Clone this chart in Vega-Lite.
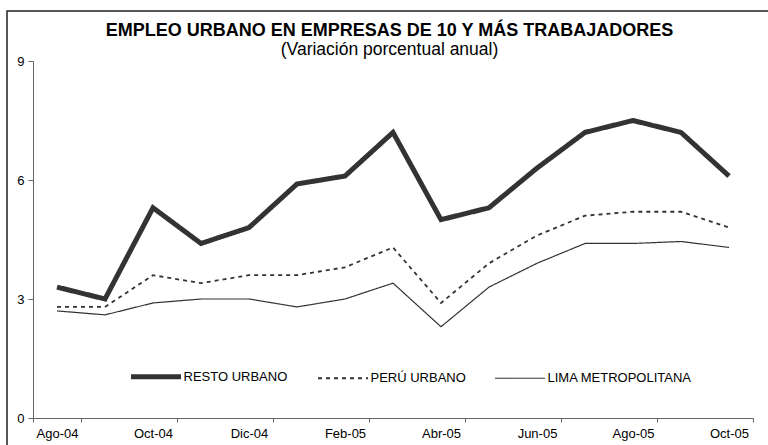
{
  "$schema": "https://vega.github.io/schema/vega-lite/v6.json",
  "width": 765,
  "height": 440,
  "autosize": {"type": "none"},
  "padding": {"left": 7, "top": 11, "right": 0, "bottom": 0},
  "background": "white",
  "title": {
    "text": "EMPLEO URBANO EN EMPRESAS DE 10 Y MÁS TRABAJADORES",
    "subtitle": "(Variación porcentual anual)",
    "anchor": "middle",
    "frame": "group",
    "offset": -47,
    "font": "Liberation Sans",
    "fontSize": 18,
    "fontWeight": "bold",
    "color": "black",
    "subtitleFont": "Liberation Sans",
    "subtitleFontSize": 17.5,
    "subtitleColor": "black",
    "subtitlePadding": 1
  },
  "config": {
    "view": {"stroke": "#222", "strokeWidth": 1.5},
    "axis": {
      "labelFont": "Liberation Sans",
      "labelFontSize": 13,
      "labelColor": "black",
      "domainColor": "#666",
      "tickColor": "#666",
      "grid": false,
      "title": null
    },
    "legend": {
      "labelFont": "Liberation Sans",
      "labelFontSize": 13,
      "labelColor": "black"
    }
  },
  "data": {
    "values": [
      {"mes": "Ago-04", "serie": "RESTO URBANO", "valor": 3.3},
      {"mes": "Set-04", "serie": "RESTO URBANO", "valor": 3.0},
      {"mes": "Oct-04", "serie": "RESTO URBANO", "valor": 5.3},
      {"mes": "Nov-04", "serie": "RESTO URBANO", "valor": 4.4},
      {"mes": "Dic-04", "serie": "RESTO URBANO", "valor": 4.8},
      {"mes": "Ene-05", "serie": "RESTO URBANO", "valor": 5.9},
      {"mes": "Feb-05", "serie": "RESTO URBANO", "valor": 6.1},
      {"mes": "Mar-05", "serie": "RESTO URBANO", "valor": 7.2},
      {"mes": "Abr-05", "serie": "RESTO URBANO", "valor": 5.0},
      {"mes": "May-05", "serie": "RESTO URBANO", "valor": 5.3},
      {"mes": "Jun-05", "serie": "RESTO URBANO", "valor": 6.3},
      {"mes": "Jul-05", "serie": "RESTO URBANO", "valor": 7.2},
      {"mes": "Ago-05", "serie": "RESTO URBANO", "valor": 7.5},
      {"mes": "Set-05", "serie": "RESTO URBANO", "valor": 7.2},
      {"mes": "Oct-05", "serie": "RESTO URBANO", "valor": 6.1},
      {"mes": "Ago-04", "serie": "PERÚ URBANO", "valor": 2.8},
      {"mes": "Set-04", "serie": "PERÚ URBANO", "valor": 2.8},
      {"mes": "Oct-04", "serie": "PERÚ URBANO", "valor": 3.6},
      {"mes": "Nov-04", "serie": "PERÚ URBANO", "valor": 3.4},
      {"mes": "Dic-04", "serie": "PERÚ URBANO", "valor": 3.6},
      {"mes": "Ene-05", "serie": "PERÚ URBANO", "valor": 3.6},
      {"mes": "Feb-05", "serie": "PERÚ URBANO", "valor": 3.8},
      {"mes": "Mar-05", "serie": "PERÚ URBANO", "valor": 4.3},
      {"mes": "Abr-05", "serie": "PERÚ URBANO", "valor": 2.9},
      {"mes": "May-05", "serie": "PERÚ URBANO", "valor": 3.9},
      {"mes": "Jun-05", "serie": "PERÚ URBANO", "valor": 4.6},
      {"mes": "Jul-05", "serie": "PERÚ URBANO", "valor": 5.1},
      {"mes": "Ago-05", "serie": "PERÚ URBANO", "valor": 5.2},
      {"mes": "Set-05", "serie": "PERÚ URBANO", "valor": 5.2},
      {"mes": "Oct-05", "serie": "PERÚ URBANO", "valor": 4.8},
      {"mes": "Ago-04", "serie": "LIMA METROPOLITANA", "valor": 2.7},
      {"mes": "Set-04", "serie": "LIMA METROPOLITANA", "valor": 2.6},
      {"mes": "Oct-04", "serie": "LIMA METROPOLITANA", "valor": 2.9},
      {"mes": "Nov-04", "serie": "LIMA METROPOLITANA", "valor": 3.0},
      {"mes": "Dic-04", "serie": "LIMA METROPOLITANA", "valor": 3.0},
      {"mes": "Ene-05", "serie": "LIMA METROPOLITANA", "valor": 2.8},
      {"mes": "Feb-05", "serie": "LIMA METROPOLITANA", "valor": 3.0},
      {"mes": "Mar-05", "serie": "LIMA METROPOLITANA", "valor": 3.4},
      {"mes": "Abr-05", "serie": "LIMA METROPOLITANA", "valor": 2.3},
      {"mes": "May-05", "serie": "LIMA METROPOLITANA", "valor": 3.3},
      {"mes": "Jun-05", "serie": "LIMA METROPOLITANA", "valor": 3.9},
      {"mes": "Jul-05", "serie": "LIMA METROPOLITANA", "valor": 4.4},
      {"mes": "Ago-05", "serie": "LIMA METROPOLITANA", "valor": 4.4},
      {"mes": "Set-05", "serie": "LIMA METROPOLITANA", "valor": 4.45},
      {"mes": "Oct-05", "serie": "LIMA METROPOLITANA", "valor": 4.3}
    ]
  },
  "mark": {"type": "line", "color": "#333", "strokeJoin": "miter"},
  "encoding": {
    "x": {
      "field": "mes",
      "type": "ordinal",
      "sort": null,
      "scale": {
        "type": "band",
        "domain": ["Ago-04","Set-04","Oct-04","Nov-04","Dic-04","Ene-05","Feb-05","Mar-05","Abr-05","May-05","Jun-05","Jul-05","Ago-05","Set-05","Oct-05"],
        "range": [26, 746],
        "paddingInner": 0,
        "paddingOuter": 0
      },
      "axis": {
        "orient": "bottom",
        "offset": -33,
        "values": ["Ago-04","Oct-04","Dic-04","Feb-05","Abr-05","Jun-05","Ago-05","Oct-05"],
        "tickBand": "extent",
        "tickSize": 4,
        "labelPadding": 5,
        "labelAngle": 0
      }
    },
    "y": {
      "field": "valor",
      "type": "quantitative",
      "scale": {"domain": [0, 9], "range": [407, 50], "nice": false, "zero": false},
      "axis": {
        "orient": "left",
        "offset": -26,
        "values": [0, 3, 6, 9],
        "tickSize": 5,
        "labelPadding": 4
      }
    },
    "strokeDash": {
      "field": "serie",
      "type": "nominal",
      "sort": null,
      "scale": {
        "domain": ["RESTO URBANO", "PERÚ URBANO", "LIMA METROPOLITANA"],
        "range": [[1, 0], [4, 4], [1, 0]]
      },
      "legend": {
        "title": null,
        "orient": "none",
        "direction": "horizontal",
        "legendX": 124,
        "legendY": 359,
        "symbolType": "stroke",
        "symbolSize": 2500,
        "symbolStrokeColor": "#333",
        "symbolOffset": 18.5,
        "labelOffset": 21,
        "columnPadding": 26,
        "encode": {
          "symbols": {
            "update": {
              "strokeWidth": {"signal": "datum.value === 'RESTO URBANO' ? 5 : datum.value === 'PERÚ URBANO' ? 1.8 : 1.2"}
            }
          }
        }
      }
    },
    "strokeWidth": {
      "condition": [
        {"test": "datum.serie === 'RESTO URBANO'", "value": 5},
        {"test": "datum.serie === 'PERÚ URBANO'", "value": 1.8}
      ],
      "value": 1.2
    }
  }
}
